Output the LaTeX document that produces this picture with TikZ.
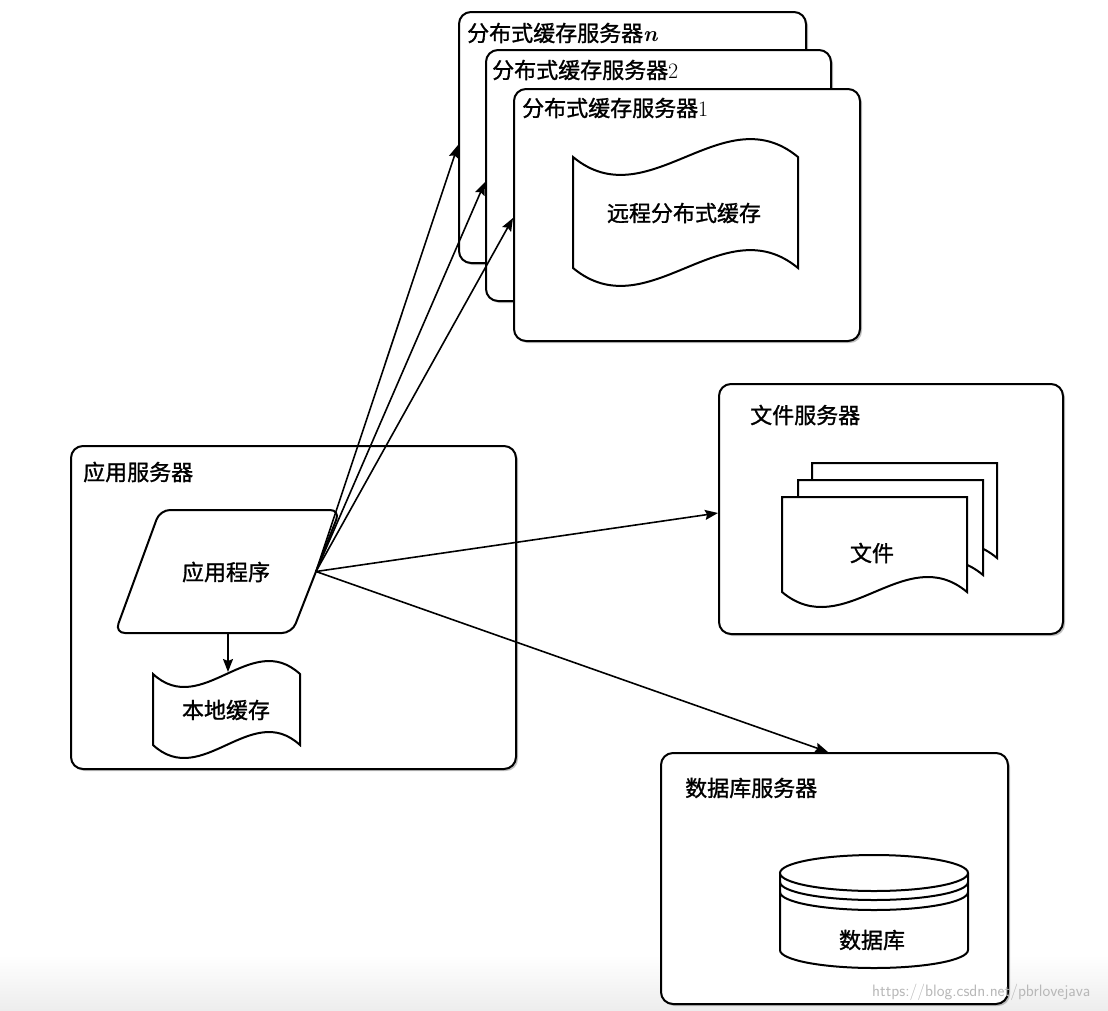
\documentclass[tikz,border=0pt]{standalone}
\usepackage{fontspec}
\newfontfamily\cjk[FakeBold=1.2]{Noto Sans CJK SC}
\usetikzlibrary{arrows.meta,shadows}
\begin{document}
\begin{tikzpicture}[x=1pt,y=1pt,
  box/.style={draw, line width=2pt, rounded corners=12pt, fill=white, inner sep=0pt, anchor=north west,
    drop shadow={shadow xshift=2pt, shadow yshift=-2pt, opacity=0.4, fill=black!60}},
  shp/.style={draw, line width=2pt, fill=white},
  ttl/.style={anchor=west, inner sep=0pt, font=\cjk\fontsize{22}{26}\selectfont},
  lbl/.style={inner sep=0pt, font=\cjk\fontsize{22}{26}\selectfont},
  conn/.style={line width=1.6pt, -{Stealth[length=13pt,width=10pt,inset=2pt]}},
  docpic/.pic={\draw[shp] (0,0) -- (185,0) -- (185,-95) .. controls (123,-43) and (62,-147) .. (0,-95) -- cycle;}
]
\useasboundingbox (0,0) rectangle (1108,-1010);
\fill[white] (0,0) rectangle (1108,-1010);
\shade[top color=white, bottom color=black!7] (0,-955) rectangle (1108,-1010);

% distributed cache servers
\node[box, minimum width=347pt, minimum height=251pt] (srvn) at (458,-11) {};
\node[ttl] (srvnT) at (467,-33) {分布式缓存服务器{\rmfamily\bfseries\itshape n}};
\node[box, minimum width=345pt, minimum height=251pt] (srv2) at (485,-49) {};
\node[ttl] (srv2T) at (492,-70) {分布式缓存服务器{\rmfamily 2}};
\node[box, minimum width=346pt, minimum height=252pt] (srv1) at (513,-88) {};
\node[ttl] (srv1T) at (522,-108) {分布式缓存服务器{\rmfamily 1}};
\draw[shp] (573,-157) .. controls (648,-219) and (723,-95) .. (798,-157)
  -- (798,-268) .. controls (723,-206) and (648,-330) .. (573,-268) -- cycle;
\node[lbl] (rcache) at (684,-213) {远程分布式缓存};

% application server
\node[box, minimum width=445pt, minimum height=323pt] (appsrv) at (70,-445) {};
\node[ttl] (appsrvT) at (83,-472) {应用服务器};
\draw[shp, rounded corners=10pt] (160,-510) -- (340,-510) -- (292,-633) -- (115,-633) -- cycle;
\node[lbl] (app) at (226,-572) {应用程序};
\coordinate (appout) at (316,-571.5);
\coordinate (appbot) at (228,-633);
\draw[shp] (153,-674) .. controls (202,-719) and (251,-629) .. (300,-674)
  -- (300,-745) .. controls (251,-700) and (202,-790) .. (153,-745) -- cycle;
\node[lbl] (lcache) at (226,-710) {本地缓存};
\coordinate (lctop) at (228,-672);

% file server
\node[box, minimum width=344pt, minimum height=250pt] (fs) at (718,-383) {};
\node[ttl] (fsT) at (750,-415) {文件服务器};
\pic at (812,-463) {docpic};
\pic at (798,-480) {docpic};
\pic at (782,-497) {docpic};
\node[lbl] (file) at (872,-553) {文件};

% database server
\node[box, minimum width=347pt, minimum height=251pt] (db) at (660,-752) {};
\node[ttl] (dbT) at (685,-788) {数据库服务器};
\draw[shp] (780,-873) -- (780,-950) arc[start angle=180, end angle=360, x radius=94, y radius=18] -- (968,-873);
\draw[shp] (874,-873) ellipse[x radius=94, y radius=18];
\draw[line width=2pt] (780,-882) arc[start angle=180, end angle=360, x radius=94, y radius=18];
\draw[line width=2pt] (780,-892) arc[start angle=180, end angle=360, x radius=94, y radius=18];
\node[lbl] (dbcyl) at (872,-940) {数据库};

% connectors
\coordinate (inN) at ([yshift=-134pt]srvn.north west);
\coordinate (in2) at ([yshift=-133pt]srv2.north west);
\coordinate (in1) at ([yshift=-130pt]srv1.north west);
\coordinate (inF) at ([yshift=-130pt]fs.north west);
\coordinate (inD) at ([xshift=168pt]db.north west);
\draw[conn] (appout) -- (inN);
\draw[conn] (appout) -- (in2);
\draw[conn] (appout) -- (in1);
\draw[conn] (appout) -- (inF);
\draw[conn] (appout) -- (inD);
\draw[conn] (appbot) -- (lctop);

\node[anchor=west, inner sep=0pt, text=black!28, font=\sffamily\fontsize{16.5}{20}\selectfont] (wm) at (872,-992) {https://blog.csdn.net/pbrlovejava};
\end{tikzpicture}
\end{document}
